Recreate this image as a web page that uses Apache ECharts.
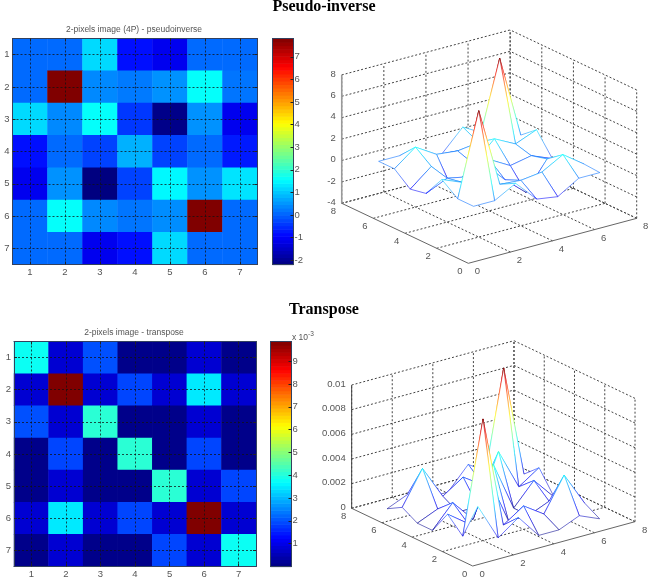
<!DOCTYPE html>
<html><head><meta charset="utf-8">
<style>html,body{margin:0;padding:0;background:#fff}#c{width:649px;height:580px}</style>
<script src="https://cdn.jsdelivr.net/npm/echarts@6/dist/echarts.min.js"></script>
</head><body><div id="c"></div>
<script>
const cells = ['1','2','3','4','5','6','7'];
const pinvValues = [
 [0.1,0.1,1.2,-0.8,-1.1,0.1,0.1],
 [0.1,7.81,0.4,0.25,0.5,1.6,0.2],
 [1.2,0.4,1.6,-0.4,-2.1,0.5,-1.1],
 [-0.8,0.1,-0.3,0.8,-0.3,0.1,-0.7],
 [-1.1,0.5,-2.19,-0.3,1.5,0.5,1.3],
 [0.1,1.6,0.4,0.2,0.45,7.81,0.1],
 [0.1,0.1,-1.1,-0.8,1.2,0.1,0.1]
];
const transValues = [
 [3.8,0.8,2.0,0.1,0.1,0.8,0.1],
 [0.8,9.86,0.8,1.9,0.8,3.5,0.8],
 [2.0,0.8,4.1,0.1,0.1,0.8,0.1],
 [0.1,1.9,0.1,4.1,0.1,1.9,0.1],
 [0.1,0.8,0.1,0.1,4.1,0.8,1.9],
 [0.8,3.5,0.8,1.9,0.8,9.86,0.8],
 [0.1,0.8,0.1,0.1,1.9,0.8,3.8]
];
const pinvBarTicks = [-2,-1,0,1,2,3,4,5,6,7];
const transBarTicks = [1,2,3,4,5,6,7,8,9];
const planeTicks = [0,2,4,6,8];
const pinvZTicks = [-4,-2,0,2,4,6,8];
const transZTicks = [0,2,4,6,8,10];       // in units of 1e-3
const transZLabels = ['0','0.002','0.004','0.006','0.008','0.01'];

const FONT = '"Liberation Sans", Arial, sans-serif';
const TXT = '#555';
const TICK_FS = 9.5;
function jet(t){
  t=Math.max(0,Math.min(1,t));
  const f=o=>Math.round(255*Math.max(0,Math.min(1,1.5-Math.abs(4*t-o))));
  return 'rgb('+f(3)+','+f(2)+','+f(1)+')';
}
const jetStops=[];for(let i=0;i<=64;i++)jetStops.push(jet(i/64));

const grids=[],xAxes=[],yAxes=[],series=[],vms=[];

function heat(box,vals,lo,hi){
  const g=grids.length;
  grids.push({left:box.l,top:box.t,width:box.w,height:box.h,containLabel:false});
  const common={type:'category',data:cells,gridIndex:g,z:5,
    axisLine:{show:true,onZero:false,lineStyle:{color:'#33415e',width:1}},
    axisTick:{show:true,inside:true,alignWithLabel:true,length:3,lineStyle:{color:'#222'}},
    splitLine:{show:false}};
  const xi=xAxes.length,yi=yAxes.length;
  xAxes.push(Object.assign({},common,{position:'bottom',axisLabel:{color:TXT,fontSize:TICK_FS,fontFamily:FONT,margin:3}}));
  xAxes.push(Object.assign({},common,{position:'top',axisLabel:{show:false}}));
  yAxes.push(Object.assign({},common,{position:'left',inverse:true,axisLabel:{color:TXT,fontSize:TICK_FS,fontFamily:FONT,margin:3}}));
  yAxes.push(Object.assign({},common,{position:'right',inverse:true,axisLabel:{show:false}}));
  const data=[];vals.forEach((r,ri)=>r.forEach((v,ci)=>data.push([ci,ri,v])));
  const sline=[];
  cells.forEach(c=>{sline.push({xAxis:c});sline.push({yAxis:c});});
  vms.push({show:false,type:'continuous',seriesIndex:series.length,dimension:2,min:lo,max:hi,inRange:{color:jetStops}});
  series.push({type:'heatmap',xAxisIndex:xi,yAxisIndex:yi,data,silent:true,progressive:0,animation:false,
    itemStyle:{borderWidth:0},
    markLine:{silent:true,symbol:'none',animation:false,label:{show:false},
      lineStyle:{type:[2,2],color:'#111',width:1,opacity:0.75},data:sline}});
}
function bar(box,lo,hi,ticks){
  const g=grids.length;
  grids.push({left:box.l,top:box.t,width:box.w,height:box.h});
  const xi=xAxes.length,yi=yAxes.length;
  const line={show:true,onZero:false,lineStyle:{color:'#33415e',width:1}};
  xAxes.push({type:'value',gridIndex:g,min:0,max:1,position:'bottom',axisLine:line,axisTick:{show:false},axisLabel:{show:false},splitLine:{show:false},z:5});
  xAxes.push({type:'value',gridIndex:g,min:0,max:1,position:'top',axisLine:line,axisTick:{show:false},axisLabel:{show:false},splitLine:{show:false},z:5});
  yAxes.push({type:'value',gridIndex:g,min:lo,max:hi,position:'right',z:5,axisLine:line,
    axisTick:{show:true,inside:true,length:3,customValues:ticks,lineStyle:{color:'#222'}},
    axisLabel:{color:TXT,fontSize:TICK_FS,fontFamily:FONT,margin:1,customValues:ticks},splitLine:{show:false}});
  yAxes.push({type:'value',gridIndex:g,min:lo,max:hi,position:'left',z:5,axisLine:line,axisTick:{show:false},axisLabel:{show:false},splitLine:{show:false}});
  const levels=[];for(let i=0;i<64;i++)levels.push([i]);
  series.push({type:'custom',xAxisIndex:xi,yAxisIndex:yi,silent:true,animation:false,data:levels,
    renderItem(p,api){
      const i=api.value(0);
      const a=api.coord([0,lo+(hi-lo)*i/64]),b=api.coord([1,lo+(hi-lo)*(i+1)/64]);
      return {type:'rect',shape:{x:a[0],y:b[1],width:b[0]-a[0],height:a[1]-b[1]+0.6},style:{fill:jet((i+0.5)/64),stroke:null}};
    }});
}
function surface(cfg){
  const g=grids.length;
  grids.push({left:cfg.panel.l,top:cfg.panel.t,width:cfg.panel.w,height:cfg.panel.h});
  const xi=xAxes.length,yi=yAxes.length;
  const hid={show:false};
  xAxes.push({type:'value',gridIndex:g,min:0,max:cfg.panel.w,show:false,axisLine:hid,splitLine:hid});
  yAxes.push({type:'value',gridIndex:g,min:0,max:cfg.panel.h,inverse:true,show:false,axisLine:hid,splitLine:hid});
  const zMin=cfg.zTicks[0],zMax=cfg.zTicks[cfg.zTicks.length-1];
  const pr=(x,y,z)=>[cfg.ox+x*cfg.xu[0]+y*cfg.yu[0],cfg.oy+x*cfg.xu[1]+y*cfg.yu[1]-(z-zMin)*cfg.zs];
  const M=8;
  // frame lines: 0 = dotted, 1 = y/x axis, 2 = z axis
  const segs=[];
  planeTicks.forEach(t=>{
    if(t>0){segs.push([t,0,zMin,t,M,zMin,0]);segs.push([0,t,zMin,M,t,zMin,0]);}
    segs.push([t,M,zMin,t,M,zMax,0]);
    segs.push([M,t,zMin,M,t,zMax,0]);
  });
  cfg.zTicks.forEach(z=>{
    segs.push([0,M,z,M,M,z,0]);segs.push([M,0,z,M,M,z,0]);
  });
  segs.push([0,0,zMin,M,0,zMin,1]);
  segs.push([0,0,zMin,0,M,zMin,1]);
  segs.push([0,M,zMin,0,M,zMax,2]);
  series.push({type:'custom',xAxisIndex:xi,yAxisIndex:yi,silent:true,animation:false,data:segs,
    renderItem(p,api){
      const a=api.coord(pr(api.value(0),api.value(1),api.value(2)));
      const b=api.coord(pr(api.value(3),api.value(4),api.value(5)));
      const k=api.value(6);
      return {type:'line',shape:{x1:a[0],y1:a[1],x2:b[0],y2:b[1]},
        style:k===0?{stroke:'#444',lineWidth:1,lineDash:[2,2],fill:null}
          :k===1?{stroke:'#666',lineWidth:1,fill:null}
          :{stroke:cfg.zAxisColor,lineWidth:cfg.zAxisWidth,fill:null}};
    }});
  // surface
  const quads=[];
  for(let j=0;j<6;j++)for(let i=0;i<6;i++)quads.push([i,j]);
  quads.sort((a,b)=>(b[0]+b[1])-(a[0]+a[1]));
  const Z=(i,j)=>cfg.values[j][i]*cfg.zUnit;
  const edge=(a,b,za,zb)=>{
    const stops=[];
    for(let k=0;k<=10;k++){const f=k/10;stops.push({offset:f,color:jet((za+(zb-za)*f-cfg.lo)/(cfg.hi-cfg.lo))});}
    return {type:'line',shape:{x1:a[0],y1:a[1],x2:b[0],y2:b[1]},
      style:{stroke:new echarts.graphic.LinearGradient(a[0],a[1],b[0],b[1],stops,true),lineWidth:cfg.meshWidth,fill:null,opacity:cfg.meshOpacity}};
  };
  series.push({type:'custom',xAxisIndex:xi,yAxisIndex:yi,silent:true,animation:false,data:quads,
    renderItem(p,api){
      const i=api.value(0),j=api.value(1);
      const idx=[[i,j],[i+1,j],[i+1,j+1],[i,j+1]];
      const zs=idx.map(q=>Z(q[0],q[1]));
      const pts=idx.map((q,n)=>api.coord(pr(q[0]+1,q[1]+1,zs[n])));
      const ch=[{type:'polygon',shape:{points:pts},style:{fill:'#fff',stroke:null}}];
      for(let n=0;n<4;n++){const m=(n+1)%4;ch.push(edge(pts[n],pts[m],zs[n],zs[m]));}
      return {type:'group',children:ch};
    }});
  // labels
  const labs=[];
  planeTicks.forEach(t=>{labs.push([t,0,zMin,0,String(t)]);labs.push([0,t,zMin,1,String(t)]);});
  cfg.zTicks.forEach((z,n)=>labs.push([0,M,z,2,cfg.zLabels[n]]));
  series.push({type:'custom',xAxisIndex:xi,yAxisIndex:yi,silent:true,animation:false,
    dimensions:['x','y','z','k',{name:'t',type:'ordinal'}],data:labs,
    renderItem(p,api){
      const k=api.value(3);
      const idx=p.dataIndex;
      const a=api.coord(pr(api.value(0),api.value(1),api.value(2)));
      const off=cfg.off[k];
      return {type:'text',style:{x:a[0]+off[0],y:a[1]+off[1],text:labs[idx][4],fill:TXT,
        font:TICK_FS+'px '+FONT,align:k===2?'right':'center',verticalAlign:'middle'}};
    }});
}

heat({l:12.5,t:38.5,w:245,h:226},pinvValues,-2.19,7.81);
bar({l:272.5,t:38.5,w:21,h:226},-2.19,7.81,pinvBarTicks);
surface({panel:{l:325,t:0,w:324,h:290},values:pinvValues,zUnit:1,lo:-2.19,hi:7.81,zTicks:pinvZTicks,
  zLabels:pinvZTicks.map(String),ox:143.3,oy:263.3,xu:[21.05,-5.62],yu:[-15.82,-7.5],zs:10.7,
  off:[[9,8.5],[-8.4,8.5],[-6,-1]],zAxisColor:'#999',zAxisWidth:1.6,meshWidth:0.9,meshOpacity:0.62});
heat({l:14,t:341.5,w:242,h:225},transValues,0,9.86);
bar({l:270.5,t:341.5,w:21,h:225},0,9.86,transBarTicks);
surface({panel:{l:325,t:290,w:324,h:290},values:transValues,zUnit:1,lo:0,hi:9.86,zTicks:transZTicks,
  zLabels:transZLabels,ox:147.7,oy:276,xu:[20.29,-5.54],yu:[-15.13,-7.21],zs:12.33,
  off:[[9.5,8.2],[-8,8],[-6,-1]],zAxisColor:'#444',zAxisWidth:1,meshWidth:0.9,meshOpacity:0.62});

const head={color:'#000',fontFamily:'"Liberation Serif","Times New Roman",serif',fontWeight:'bold',fontSize:16};
const sub={color:TXT,fontFamily:FONT,fontSize:8.5,fontWeight:'normal'};
const option={
  animation:false,backgroundColor:'#fff',
  title:[
   {text:'Pseudo-inverse',left:324,top:-1,textAlign:'center',padding:0,textStyle:head},
   {text:'Transpose',left:324,top:302,textAlign:'center',padding:0,textStyle:head},
   {text:'2-pixels image (4P) - pseudoinverse',left:134,top:25,textAlign:'center',padding:0,textStyle:sub},
   {text:'2-pixels image - transpose',left:134,top:328,textAlign:'center',padding:0,textStyle:sub},
   {text:'x 10{s|-3}',left:292,top:331,padding:0,textStyle:Object.assign({},sub,{rich:{s:{fontSize:6.5,fontFamily:FONT,color:TXT,verticalAlign:'top',padding:[0,0,6,0]}}})}
  ],
  tooltip:{show:false},
  grid:grids,xAxis:xAxes,yAxis:yAxes,visualMap:vms,series:series
};
const chart=echarts.init(document.getElementById('c'),null,{renderer:'canvas'});
chart.setOption(option);
</script></body></html>
